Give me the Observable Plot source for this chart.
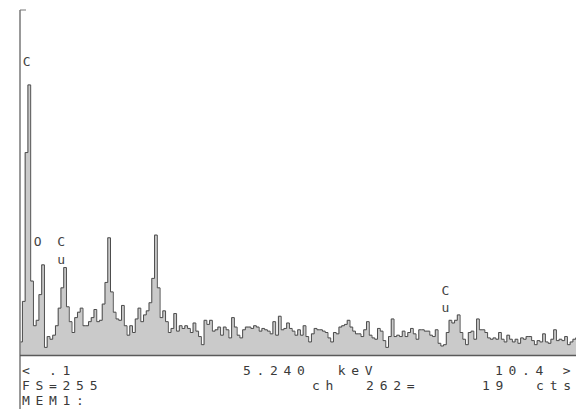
<!DOCTYPE html>
<html><head><meta charset="utf-8">
<script src="https://cdn.jsdelivr.net/npm/d3@7"></script>
<script src="https://cdn.jsdelivr.net/npm/@observablehq/plot@0.6"></script>
<style>body{margin:0;background:#fff} svg{display:block}</style>
</head><body><div id="chart"></div>
<script>
// Spectrum channels: energy (keV) of the first bin and bin width
const startKeV = 0.15;
const stepKeV = 0.05;
// Counts per bin, 0.15 keV .. 10.25 keV
const counts = [
  10, 40, 150, 200, 55, 22, 26, 45, 67, 6,        // 0.15 - 0.60
  14, 12, 15, 22, 35, 50, 65, 36, 25, 17,         // 0.65 - 1.10
  28, 32, 35, 22, 22, 25, 28, 34, 25, 26,         // 1.15 - 1.60
  38, 54, 87, 47, 32, 27, 26, 37, 22, 15,         // 1.65 - 2.10
  22, 17, 27, 35, 25, 30, 33, 39, 57, 89,         // 2.15 - 2.60
  50, 28, 33, 25, 17, 20, 31, 18, 22, 20,         // 2.65 - 3.10
  22, 20, 17, 24, 18, 14, 8, 26, 23, 26,          // 3.15 - 3.60
  18, 19, 21, 15, 21, 19, 13, 28, 21, 15,         // 3.65 - 4.10
  13, 19, 21, 21, 20, 22, 21, 18, 20, 19,         // 4.15 - 4.60
  18, 16, 25, 15, 29, 19, 20, 24, 20, 18,         // 4.65 - 5.10
  15, 19, 15, 22, 14, 10, 16, 20, 19, 19,         // 5.15 - 5.60
  18, 17, 13, 10, 17, 16, 21, 22, 23, 26,         // 5.65 - 6.10
  21, 18, 16, 16, 14, 19, 25, 15, 13, 12,         // 6.15 - 6.60
  20, 18, 11, 6, 14, 27, 14, 15, 14, 18,          // 6.65 - 7.10
  14, 17, 20, 16, 12, 19, 19, 18, 18, 15,         // 7.15 - 7.60
  14, 19, 9, 7, 8, 17, 26, 24, 26, 30,            // 7.65 - 8.10
  17, 12, 8, 17, 18, 12, 27, 19, 19, 17,          // 8.15 - 8.60
  13, 12, 13, 12, 17, 12, 10, 15, 12, 10,         // 8.65 - 9.10
  12, 9, 13, 12, 14, 14, 11, 8, 11, 10,           // 9.15 - 9.60
  16, 10, 9, 12, 19, 11, 12, 11, 14, 8,           // 9.65 - 10.10
  10, 12, 13                                      // 10.15 - 10.25
];
// Element line markers
const peakLabels = ["C", "O", "C\nu", "C\nu"];
const peakLabelKeV = [0.25, 0.45, 0.88, 7.86];
const peakLabelCounts = [214, 81, 68, 32];
// Display limits and readout
const xRangeKeV = [0.14, 10.24];
const fullScale = 255;
const readoutRow1 = ["< .1", "5.240  keV", "10.4 >"];
const readoutRow2 = ["FS=255", "ch  262=", "19  cts"];
const readoutRow3 = ["MEM1:"];

const data = counts.map((c, i) => ({keV: +(startKeV + i * stepKeV).toFixed(2), c}));
const labels = peakLabels.map((t, i) => ({t, keV: peakLabelKeV[i], c: peakLabelCounts[i]}));

const W = 578, H = 409;
const chart = Plot.plot({
  width: W, height: H,
  marginLeft: 20, marginRight: 2, marginTop: 10, marginBottom: 54,
  x: {domain: xRangeKeV, axis: null},
  y: {domain: [0, fullScale], axis: null},
  style: {background: "#fff", overflow: "visible"},
  marks: [
    Plot.areaY(data, {x: "keV", y: "c", curve: "step", fill: "#cacaca", clip: true}),
    Plot.lineY(data, {x: "keV", y: "c", curve: "step", stroke: "#4d4d4d", strokeWidth: 1, clip: true}),
    Plot.ruleY([0], {stroke: "#5a5a5a", strokeWidth: 1.5}),
    Plot.text(labels, {x: "keV", y: "c", text: "t", lineAnchor: "bottom",
      fontFamily: "DejaVu Sans Mono", fontSize: 13, fill: "#444", lineHeight: 1.35})
  ]
});
document.getElementById("chart").appendChild(chart);

const svg = d3.select(chart);
// left axis line
svg.append("line").attr("x1", 20).attr("x2", 20).attr("y1", 10).attr("y2", H)
  .attr("stroke", "#555").attr("stroke-width", 1.2);
svg.append("line").attr("x1", 20).attr("x2", 26).attr("y1", 10).attr("y2", 10)
  .attr("stroke", "#777").attr("stroke-width", 1);

const rows = [
  {items: readoutRow1, xs: [22, 243, 495], y: 375},
  {items: readoutRow2, xs: [22, 312, 482], y: 390},
  {items: readoutRow3, xs: [22], y: 405}
];
rows.forEach(r => r.items.forEach((t, i) => {
  svg.append("text").attr("x", r.xs[i]).attr("y", r.y)
    .attr("text-anchor", "start")
    .attr("font-family", "DejaVu Sans Mono").attr("font-size", 13)
    .attr("letter-spacing", 5.7).attr("fill", "#3a3a3a")
    .style("white-space", "pre")
    .text(t);
}));
</script>
</body></html>
